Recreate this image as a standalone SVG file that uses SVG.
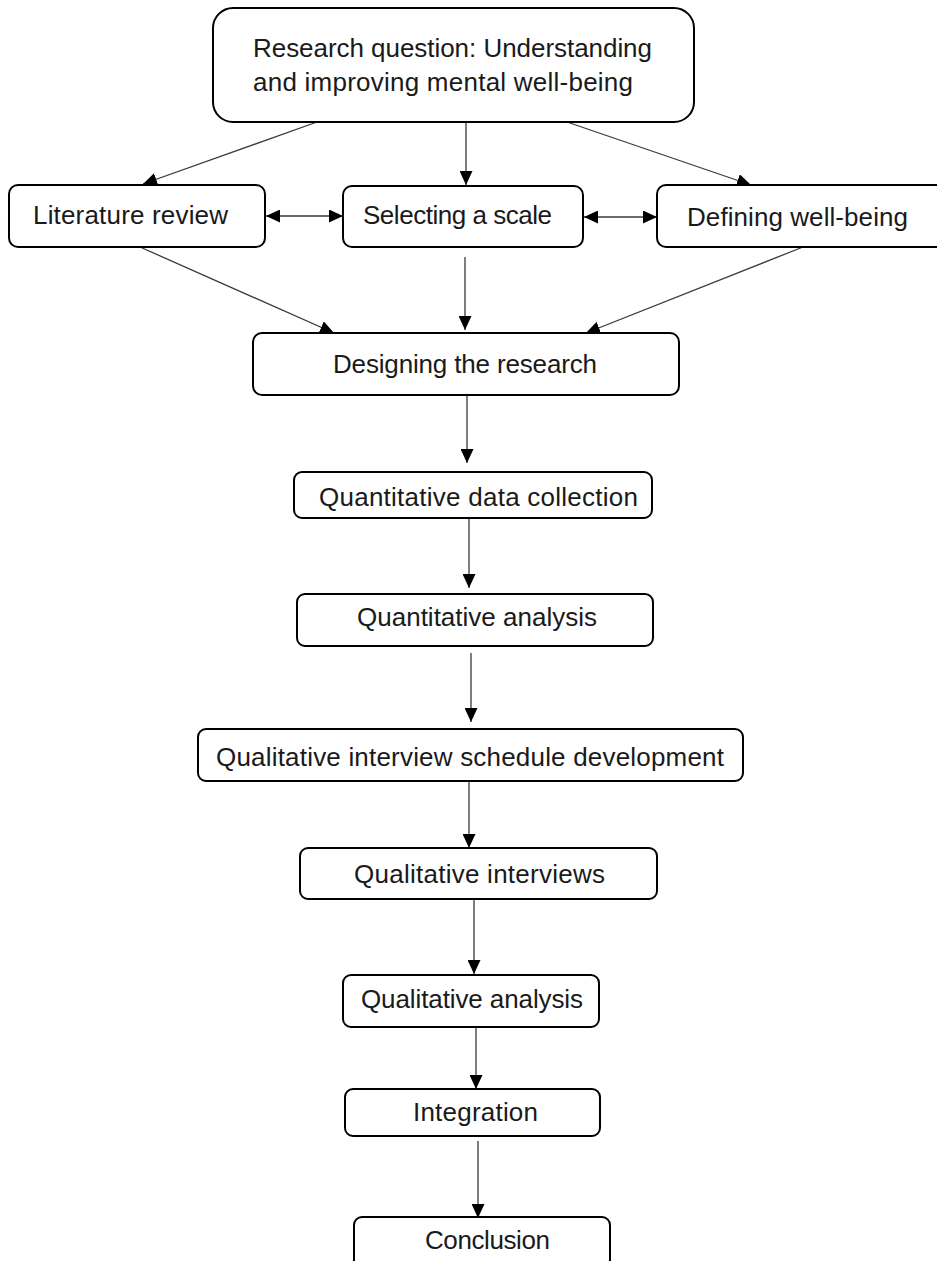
<svg xmlns="http://www.w3.org/2000/svg" width="937" height="1261" viewBox="0 0 937 1261">
  <defs>
    <marker id="head" markerUnits="userSpaceOnUse" markerWidth="14" markerHeight="13" refX="14" refY="6.5" orient="auto-start-reverse">
      <path d="M0,0 L14,6.5 L0,13 z" fill="#000"/>
    </marker>
    <style>
      .box { fill: #fff; stroke: #000; stroke-width: 2; }
      .lbl { font-family: "Liberation Sans", Arial, sans-serif; font-size: 26px; fill: #1a1a1a; }
      .edge { fill: none; stroke: #3a3a3a; stroke-width: 1.3; marker-end: url(#head); }
      .both { marker-start: url(#head); }
    </style>
  </defs>
  <rect width="937" height="1261" fill="#fff"/>

  <!-- connectors -->
  <g id="connectors">
    <line class="edge" x1="317" y1="122" x2="143" y2="184"/>
    <line class="edge" x1="466" y1="122" x2="466" y2="185"/>
    <line class="edge" x1="567" y1="122" x2="751" y2="185"/>
    <line class="edge both" x1="266" y1="216" x2="343" y2="216"/>
    <line class="edge both" x1="584" y1="217" x2="657" y2="217"/>
    <line class="edge" x1="140" y1="247" x2="334" y2="333"/>
    <line class="edge" x1="465" y1="257" x2="465" y2="330"/>
    <line class="edge" x1="803" y1="247" x2="586" y2="333"/>
    <line class="edge" x1="467" y1="395" x2="467" y2="463"/>
    <line class="edge" x1="469" y1="518" x2="469" y2="588"/>
    <line class="edge" x1="471" y1="653" x2="471" y2="722"/>
    <line class="edge" x1="469" y1="781" x2="469" y2="848"/>
    <line class="edge" x1="474" y1="899" x2="474" y2="974"/>
    <line class="edge" x1="476" y1="1027" x2="476" y2="1089"/>
    <line class="edge" x1="478" y1="1141" x2="478" y2="1218"/>
  </g>

  <g id="research-question">
    <rect class="box" x="213" y="8" width="481" height="114" rx="20"/>
    <text class="lbl" x="253" y="57" textLength="399" lengthAdjust="spacing">Research question: Understanding</text>
    <text class="lbl" x="253" y="91" textLength="380" lengthAdjust="spacing">and improving mental well-being</text>
  </g>

  <g id="literature-review">
    <rect class="box" x="9" y="185" width="256" height="62" rx="9"/>
    <text class="lbl" x="33" y="224" textLength="195" lengthAdjust="spacing">Literature review</text>
  </g>

  <g id="selecting-scale">
    <rect class="box" x="343" y="186" width="240" height="61" rx="9"/>
    <text class="lbl" x="363" y="224" textLength="189" lengthAdjust="spacing">Selecting a scale</text>
  </g>

  <g id="defining-wellbeing">
    <rect class="box" x="657" y="185" width="300" height="62" rx="9"/>
    <text class="lbl" x="687" y="226" textLength="221" lengthAdjust="spacing">Defining well-being</text>
  </g>

  <g id="designing-research">
    <rect class="box" x="253" y="333" width="426" height="62" rx="9"/>
    <text class="lbl" x="333" y="373" textLength="264" lengthAdjust="spacing">Designing the research</text>
  </g>

  <g id="quant-data-collection">
    <rect class="box" x="294" y="472" width="358" height="46" rx="8"/>
    <text class="lbl" x="319" y="506" textLength="319" lengthAdjust="spacing">Quantitative data collection</text>
  </g>

  <g id="quant-analysis">
    <rect class="box" x="297" y="594" width="356" height="52" rx="8"/>
    <text class="lbl" x="357" y="626" textLength="240" lengthAdjust="spacing">Quantitative analysis</text>
  </g>

  <g id="interview-schedule">
    <rect class="box" x="198" y="729" width="545" height="52" rx="8"/>
    <text class="lbl" x="216" y="766" textLength="508" lengthAdjust="spacing">Qualitative interview schedule development</text>
  </g>

  <g id="qual-interviews">
    <rect class="box" x="300" y="848" width="357" height="51" rx="8"/>
    <text class="lbl" x="354" y="883" textLength="251" lengthAdjust="spacing">Qualitative interviews</text>
  </g>

  <g id="qual-analysis">
    <rect class="box" x="343" y="975" width="256" height="52" rx="8"/>
    <text class="lbl" x="361" y="1008" textLength="222" lengthAdjust="spacing">Qualitative analysis</text>
  </g>

  <g id="integration">
    <rect class="box" x="345" y="1089" width="255" height="47" rx="8"/>
    <text class="lbl" x="413" y="1121" textLength="125" lengthAdjust="spacing">Integration</text>
  </g>

  <g id="conclusion">
    <rect class="box" x="354" y="1217" width="256" height="60" rx="8"/>
    <text class="lbl" x="425" y="1249" textLength="125" lengthAdjust="spacing">Conclusion</text>
  </g>
</svg>
